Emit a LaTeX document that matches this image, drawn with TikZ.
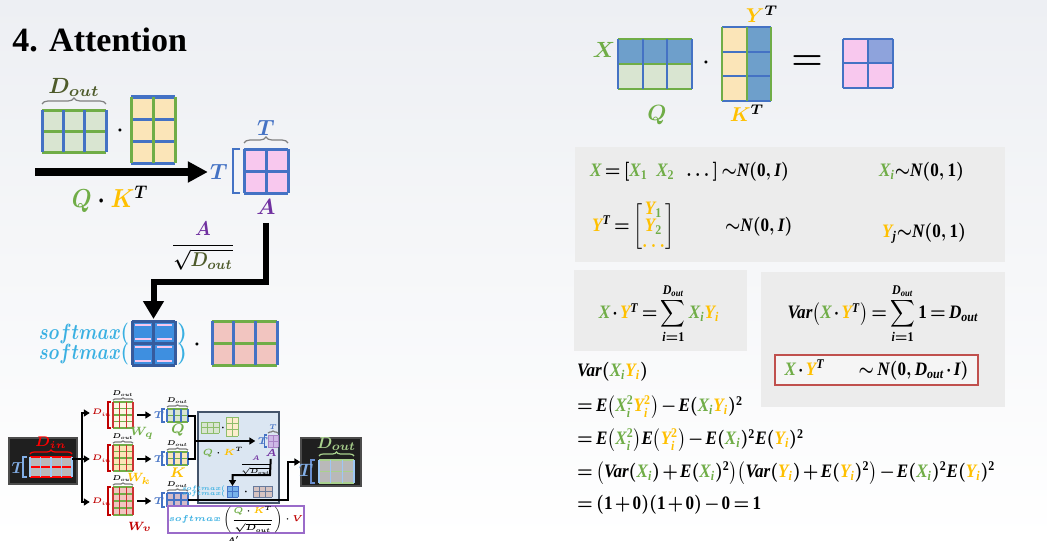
\documentclass[tikz,border=0pt]{standalone}
\usepackage{fix-cm}
\usepackage{amsmath,amssymb}
\usepackage{fontspec}
\newfontfamily\titlefont{Liberation Serif}
\newfontfamily\eqfont{Liberation Serif}
\usetikzlibrary{arrows.meta,calc,decorations.pathreplacing}

\definecolor{xgreen}{HTML}{70AD47}
\definecolor{kyellow}{HTML}{FFC000}
\definecolor{tblue}{HTML}{4472C4}
\definecolor{apurple}{HTML}{7030A0}
\definecolor{smcyan}{HTML}{3AB0E2}
\definecolor{vred}{HTML}{C00000}
\definecolor{dolive}{HTML}{4E5B2B}
\definecolor{qfill}{HTML}{D9E5D1}
\definecolor{kfill}{HTML}{FBE5B8}
\definecolor{afill}{HTML}{F8C8EE}
\definecolor{vfill}{HTML}{F2C5C0}
\definecolor{smfill}{HTML}{3E8FE0}
\definecolor{steel}{HTML}{6E9FCB}
\definecolor{lilac}{HTML}{8EA3DC}
\definecolor{panel}{HTML}{ECECEC}
\definecolor{boxred}{HTML}{C0504D}
\definecolor{attfill}{HTML}{DBE6F2}
\definecolor{attline}{HTML}{44546A}
\definecolor{finpurple}{HTML}{9A6BC9}
\definecolor{lgreen}{HTML}{A9D18E}
\definecolor{lblue}{HTML}{9DC8F5}
\definecolor{bgtop}{HTML}{EDEFF3}

\newcommand{\xc}[1]{{\color{xgreen}#1}}
\newcommand{\yc}[1]{{\color{kyellow}#1}}
\newcommand{\fs}[1]{\fontsize{#1}{#1}\selectfont\boldmath}
% equation letters
\newcommand{\tb}[1]{\text{\eqfont\bfseries\itshape #1}}
\newcommand{\tn}[1]{\text{\eqfont\bfseries #1}}
\newcommand{\gX}{\xc{\tb{X}_{\tb{i}}}}
\newcommand{\gXsq}{\xc{\tb{X}_{\tb{i}}^{\tn{2}}}}
\newcommand{\yY}{\yc{\tb{Y}_{\tb{i}}}}
\newcommand{\yYsq}{\yc{\tb{Y}_{\tb{i}}^{\tn{2}}}}
\newcommand{\Dout}{\tb{D}_{\tb{out}}}
\newcommand{\Vr}{\tb{Var}}
\newcommand{\Ex}{\tb{E}}
\newcommand{\sqd}{^{\tn{2}}}

\tikzset{
  mat/.style 2 args={rectangle, inner sep=0pt, outer sep=0pt,
    minimum width={#1*0.5pt}, minimum height={#2*0.5pt}},
  darkbox/.style 2 args={draw=gray!60!black, fill=black!88, line width=0.6pt,
    inner sep=0pt, minimum width={#1*0.5pt}, minimum height={#2*0.5pt}},
  eq/.style={transform shape, xscale=0.9, font={\fs{9.5}\medmuskip=2mu\thickmuskip=3mu}},
  narrow/.style={transform shape, xscale=#1},
  bigarrow/.style={line width=4pt, -{Triangle[length=10pt,width=10pt]}},
  fatarrow/.style={line width=3pt, line join=miter, -{Triangle[length=9pt,width=10pt]}},
  minarrow/.style={line width=1pt, -{Triangle[length=3pt,width=3.5pt]}},
  thinline/.style={line width=1pt},
}

% grid: node, cols, rows, row-line colour, column-line colour, width
\newcommand{\gridlines}[6]{%
  \foreach \k in {0,...,#3}
    \draw[#4, line width=#6] ($(#1.north west)!\k/#3!(#1.south west)$) -- ($(#1.north east)!\k/#3!(#1.south east)$);
  \foreach \k in {0,...,#2}
    \draw[#5, line width=#6] ($(#1.north west)!\k/#2!(#1.north east)$) -- ($(#1.south west)!\k/#2!(#1.south east)$);
}
% left bracket: node, colour, gap, arm
\newcommand{\sqbr}[4]{%
  \draw[#2, line width=0.6pt] ([xshift=-#3]#1.north west) -- ([xshift=-#3-#4]#1.north west)
    -- ([xshift=-#3-#4]#1.south west) -- ([xshift=-#3]#1.south west);}
% brace on top: [label opts], brace colour, node, gap, amplitude, label
\newcommand{\obrace}[6][]{%
  \draw[#2, line width=0.6pt, decorate, decoration={brace, amplitude=#5}]
    ([yshift=#4]#3.north west) -- ([yshift=#4]#3.north east)
    node[midway, above=#5, inner sep=0.5pt, #1] (#3-dim) {#6};}

\begin{document}
\begin{tikzpicture}[x=0.5pt, y=-0.5pt, every node/.style={inner sep=1pt}, font=\fs{10}]
  % background
  \shade[top color=bgtop, bottom color=white] (0,0) rectangle (1047,540);
  \useasboundingbox (0,0) rectangle (1047,540);

  \node[anchor=base west, inner sep=0pt, font=\fontsize{17}{20}\titlefont\bfseries] (title) at (12,52) {4. Attention};

  % Q . K^T
  \node[mat={64}{42}, fill=qfill] (Qa) at (74,131) {};
  \gridlines{Qa}{3}{2}{xgreen}{tblue}{1.5pt}
  \obrace[dolive, font=\fs{11}]{gray}{Qa}{3pt}{3pt}{$D_{out}$}
  \node (dotA) at (120,131) {$\cdot$};
  \node[mat={44}{66}, fill=kfill] (Ka) at (153,130) {};
  \gridlines{Ka}{2}{3}{tblue}{xgreen}{1.5pt}

  \coordinate (qkin) at (35,172);
  \node[tblue, font=\fs{11}] (Ta) at (219,172) {$T$};
  \draw[bigarrow] (qkin) -- (Ta);
  \node[narrow=0.88, font=\fs{13}] (qklbl) at (110,199) {$\xc{Q}\cdot\yc{K}^T$};

  % A
  \node[mat={44}{44}, fill=afill] (Aa) at (266,171) {};
  \gridlines{Aa}{2}{2}{tblue}{tblue}{1.5pt}
  \sqbr{Aa}{tblue}{2pt}{3.5pt}
  \obrace[tblue, font=\fs{11}]{gray}{Aa}{3pt}{3pt}{$T$}
  \node[apurple, font=\fs{11}] (Albl) at (266,207) {$A$};
  \node[narrow=0.9] (scale) at (203,246) {$\dfrac{\color{apurple}A}{\sqrt{\color{dolive}D_{out}}}$};

  % softmax . V
  \node[mat={43}{44}, fill=smfill] (SMa) at (153.5,343) {};
  \foreach \yo in {2,9,13,20}
    \foreach \xo in {1.5,12.25}
      \draw[afill, line width=1.2pt] ([shift={(\xo pt,-\yo pt)}]SMa.north west) -- ++(7.75pt,0);
  \gridlines{SMa}{2}{2}{tblue!80!black}{tblue!80!black}{1.5pt}
  \node[anchor=east, smcyan, narrow=0.82, font=\fs{11}] (sm1) at (131,334) {$softmax($};
  \node[anchor=east, smcyan, narrow=0.82, font=\fs{11}] (sm2) at (131,354) {$softmax($};
  \node[smcyan, font=\fs{11}] (sm1r) at (182,334) {$)$};
  \node[smcyan, font=\fs{11}] (sm2r) at (182,354) {$)$};
  \node (dotB) at (197,345) {$\cdot$};
  \node[mat={65}{44}, fill=vfill] (Va) at (244.5,343) {};
  \gridlines{Va}{3}{2}{xgreen}{tblue}{1.5pt}

  \coordinate (abend) at (266,282);
  \draw[fatarrow, shorten <=3pt, shorten >=1pt] (Albl) -- (abend) -| (SMa);

  % small overview: input
  \node[darkbox={68}{46}] (inbox) at (43,461) {};
  \node[mat={42}{20}, fill=gray!55] (Xin) at (51,467) {};
  \gridlines{Xin}{4}{2}{red}{lblue}{0.8pt}
  \obrace[red, font=\fs{7}]{red}{Xin}{1.5pt}{2pt}{$D_{in}$}
  \sqbr{Xin}{lblue!70!tblue}{1.5pt}{2pt}
  \node[lblue!70!tblue, font=\fs{8}] (Tin) at (18,468) {$T$};

  \coordinate (split) at (82,459);
  \draw[thinline] (Xin.east |- split) -- (split);
  \node[vred, font=\fs{4}] (Dq) at (102,413) {$D_{in}$};
  \node[vred, font=\fs{4}] (Dk) at (102,459) {$D_{in}$};
  \node[vred, font=\fs{4}] (Dv) at (102,502) {$D_{in}$};
  \draw[minarrow] (split) |- (Dq);
  \draw[minarrow] (split) -- (Dk);
  \draw[minarrow] (split) |- (Dv);

  % weights
  \node[mat={20}{26}, fill=kfill!40] (Wq) at (123,415) {};
  \node[mat={20}{26}, fill=kfill] (Wk) at (123,458) {};
  \node[mat={20}{28}, fill=vfill] (Wv) at (123,501) {};
  \foreach \w in {Wq,Wk,Wv}{
    \gridlines{\w}{3}{4}{xgreen}{vred!80}{0.6pt}
    \sqbr{\w}{vred}{1pt}{1.5pt}
    \obrace[black, font=\fs{3.5}]{gray}{\w}{1pt}{1pt}{$D_{out}$}
  }
  \node[xgreen, font=\fs{6}] (Wql) at (142,433) {$W_q$};
  \node[kyellow, font=\fs{6}] (Wkl) at (139,479) {$W_k$};
  \node[vred, font=\fs{6}] (Wvl) at (140,527) {$W_v$};

  % Q, K, V
  \node[tblue, font=\fs{5}] (Tq) at (159,415) {$T$};
  \node[tblue, font=\fs{5}] (Tk) at (159,459) {$T$};
  \node[tblue, font=\fs{5}] (Tv) at (159,501) {$T$};
  \draw[minarrow, shorten <=2pt] (Wq) -- (Tq);
  \draw[minarrow, shorten <=2pt] (Wk.east |- Tk) -- (Tk);
  \draw[minarrow, shorten <=2pt] (Wv) -- (Tv);
  \node[mat={21}{13}, fill=qfill] (Qs) at (177.5,415.5) {};
  \node[mat={21}{13}, fill=kfill] (Ks) at (177.5,458.5) {};
  \node[mat={21}{14}, fill=vfill!70!lilac] (Vs) at (177.5,500) {};
  \gridlines{Qs}{3}{2}{xgreen}{tblue}{0.6pt}
  \gridlines{Ks}{3}{2}{xgreen}{tblue}{0.6pt}
  \gridlines{Vs}{3}{2}{tblue}{tblue}{0.6pt}
  \foreach \m in {Qs,Ks,Vs}{
    \sqbr{\m}{tblue}{1pt}{1.5pt}
    \obrace[black, font=\fs{3.5}]{gray}{\m}{1pt}{1pt}{$D_{out}$}
  }
  \node[xgreen, font=\fs{7}] (Qsl) at (178,430) {$Q$};
  \node[kyellow, font=\fs{7}] (Ksl) at (178,473) {$K$};
  \node[vred, font=\fs{7}] (Vsl) at (178,515) {$V$};

  % attention block
  \node[draw=attline, fill=attfill, line width=0.8pt, inner sep=0pt,
    minimum width=40.5pt, minimum height=45.5pt] (attbox) at (238.5,457.5) {};
  \node[mat={18}{11}, fill=qfill] (Qm) at (210,427.5) {};
  \gridlines{Qm}{3}{2}{xgreen!80}{xgreen!80}{0.4pt}
  \node[font=\fs{5}] (dotm) at (223,428) {$\cdot$};
  \node[mat={12}{19}, fill=kfill!70] (Km) at (232,426.5) {};
  \gridlines{Km}{2}{3}{xgreen!80}{xgreen!80}{0.4pt}
  \node[font=\fs{4.5}] (qkm) at (223,452) {$\xc{Q}\cdot\yc{K}^T$};
  \node[tblue, font=\fs{5}] (Tm) at (263,441) {$T$};
  \node[mat={10}{12}, fill=afill!60!lilac] (Am) at (273,441) {};
  \gridlines{Am}{2}{2}{apurple!60}{apurple!60}{0.4pt}
  \sqbr{Am}{tblue}{0.6pt}{1pt}
  \obrace[tblue, font=\fs{3.5}]{gray}{Am}{1pt}{1pt}{$T$}
  \node[apurple, font=\fs{5}] (Aml) at (271,453) {$A$};
  \node[font=\fs{3.3}] (scalem) at (256,465) {$\dfrac{\color{apurple}A}{\sqrt{D_{out}}}$};

  \coordinate (qkjoin) at (195,441);
  \draw[thinline] (Qs.east) -| (qkjoin) |- (Ks.east);
  \draw[minarrow] (qkjoin) -- (Tm);

  \node[mat={11}{11}, fill=smfill!70] (SMm) at (232.5,491.5) {};
  \gridlines{SMm}{2}{2}{tblue}{tblue}{0.4pt}
  \node[anchor=east, smcyan, font=\fs{3.2}, inner sep=0.3pt] (smm1) at (226,488.5) {$softmax($};
  \node[anchor=east, smcyan, font=\fs{3.2}, inner sep=0.3pt] (smm2) at (226,494) {$softmax($};
  \node[font=\fs{5}] (dotm2) at (246,492) {$\cdot$};
  \node[mat={19}{11}, fill=vfill!60!gray!70] (Vm) at (262.5,491.5) {};
  \gridlines{Vm}{3}{2}{tblue!40!gray}{tblue!40!gray}{0.4pt}
  \coordinate (abend2) at (270,475);
  \draw[minarrow, line join=miter] (Aml) -- (abend2) -| (SMm);

  \node[draw=finpurple, fill=white, line width=0.8pt, inner sep=0.3pt,
    minimum width=36pt, minimum height=13.5pt, font=\fs{4.3}] (finbox) at (236,519.5)
    {$\color{smcyan}softmax\color{black}\left(\dfrac{\xc{Q}\cdot\yc{K}^T}{\sqrt{D_{out}}}\right)\cdot{\color{vred}V}$};
  \node[font=\fs{4}] (aprime) at (233,540) {$A'$};

  % output
  \node[darkbox={60}{48}] (outbox) at (331,462) {};
  \node[mat={35}{23}, fill=gray!55] (Xout) at (336.5,471.5) {};
  \gridlines{Xout}{3}{2}{lgreen}{lblue}{0.8pt}
  \obrace[lgreen, font=\fs{8}]{lgreen}{Xout}{2pt}{2pt}{$D_{out}$}
  \sqbr{Xout}{tblue!80!white}{2pt}{2pt}
  \node[lblue!70!tblue, font=\fs{9}] (Tout) at (306,470) {$T$};
  \coordinate (vturn) at (288,462);
  \draw[minarrow] (Vs.east) -| (vturn) -- (outbox.west |- vturn);

  % X . Y^T = result
  \node[xgreen, font=\fs{11}] (Xl) at (604,50) {$X$};
  \node[mat={74}{50}, fill=qfill] (Qb) at (655,64) {};
  \fill[steel] (Qb.north west) rectangle (Qb.east);
  \gridlines{Qb}{3}{2}{xgreen}{tblue}{1pt}
  \node[xgreen, font=\fs{11}] (Qbl) at (657,115) {$Q$};
  \node (dotC) at (706,63) {$\cdot$};
  \node[mat={49}{74}, fill=kfill] (Kb) at (746.5,64) {};
  \fill[steel] (Kb.north) rectangle (Kb.south east);
  \gridlines{Kb}{2}{3}{tblue}{xgreen}{1pt}
  \node[font=\fs{10}] (Ytl) at (762,14) {$\yc{Y}^T$};
  \node[font=\fs{10}] (Ktl) at (747,113) {$\yc{K}^T$};
  \node[font=\fs{18}] (eqsign) at (807,63) {$=$};
  \node[mat={50}{49}, fill=afill] (Rb) at (868,63.5) {};
  \fill[lilac] (Rb.north) rectangle (Rb.east);
  \gridlines{Rb}{2}{2}{tblue}{tblue}{1pt}

  % panels
  \fill[panel] (575,147) rectangle (1005,262);
  \fill[panel] (574,270) rectangle (747,351);
  \fill[panel] (761,272) rectangle (1005,407);

  \node[eq, anchor=west] (eqX) at (588,172) {$\xc{\tb{X}} = [\xc{\tb{X}_{\tn{1}}}\enspace \xc{\tb{X}_{\tn{2}}}\enspace \dots]\,{\sim}\tb{N}(\tn{0},\tb{I})$};
  \node[eq, anchor=west] (eqXi) at (877,172) {$\gX{\sim}\tb{N}(\tn{0},\tn{1})$};
  \node[eq, anchor=west] (eqY) at (590,227) {\renewcommand{\arraystretch}{0.8}$\yc{\tb{Y}}^{\tb{T}} = \left[\begin{array}{@{}c@{}}\yc{\tb{Y}}_{\xc{\tn{1}}}\\ \yc{\tb{Y}}_{\xc{\tn{2}}}\\ \yc{\dots}\end{array}\right]$};
  \node[eq, anchor=west] (eqYd) at (723,227) {${\sim}\tb{N}(\tn{0},\tb{I})$};
  \node[eq, anchor=west] (eqYj) at (880,233) {$\yc{\tb{Y}}_{\tb{j}}{\sim}\tb{N}(\tn{0},\tn{1})$};
  \node[eq] (eqsum) at (659,314) {$\xc{\tb{X}}\cdot\yc{\tb{Y}}^{\tb{T}} = \displaystyle\sum_{\tb{i}=\tn{1}}^{\Dout}\gX\yY$};
  \node[eq] (eqvar) at (883,314) {$\Vr\bigl(\xc{\tb{X}}\cdot\yc{\tb{Y}}^{\tb{T}}\bigr) = \displaystyle\sum_{\tb{i}=\tn{1}}^{\Dout}\tn{1} = \Dout$};
  \node[eq, draw=boxred, fill=panel!50!white, line width=0.8pt, inner sep=0pt,
    minimum width=112.8pt, minimum height=15pt] (redbox) at (876.5,370)
    {$\xc{\tb{X}}\cdot\yc{\tb{Y}}^{\tb{T}}\qquad{\sim}\,\tb{N}(\tn{0},\Dout\cdot\tb{I})$};

  % variance derivation
  \node[eq, anchor=west] (v1) at (575,372) {$\Vr(\gX\yY)$};
  \node[eq, anchor=west] (v2) at (575,407) {$= \Ex\bigl(\gXsq\yYsq\bigr) - \Ex(\gX\yY)\sqd$};
  \node[eq, anchor=west] (v3) at (575,440) {$= \Ex\bigl(\gXsq\bigr)\Ex\bigl(\yYsq\bigr) - \Ex(\gX)\sqd\Ex(\yY)\sqd$};
  \node[eq, anchor=west] (v4) at (575,473) {$= \bigl(\Vr(\gX) + \Ex(\gX)\sqd\bigr)\bigl(\Vr(\yY) + \Ex(\yY)\sqd\bigr) - \Ex(\gX)\sqd\Ex(\yY)\sqd$};
  \node[eq, anchor=west] (v5) at (575,505) {$= (\tn{1}+\tn{0})(\tn{1}+\tn{0}) - \tn{0} = \tn{1}$};
\end{tikzpicture}
\end{document}
